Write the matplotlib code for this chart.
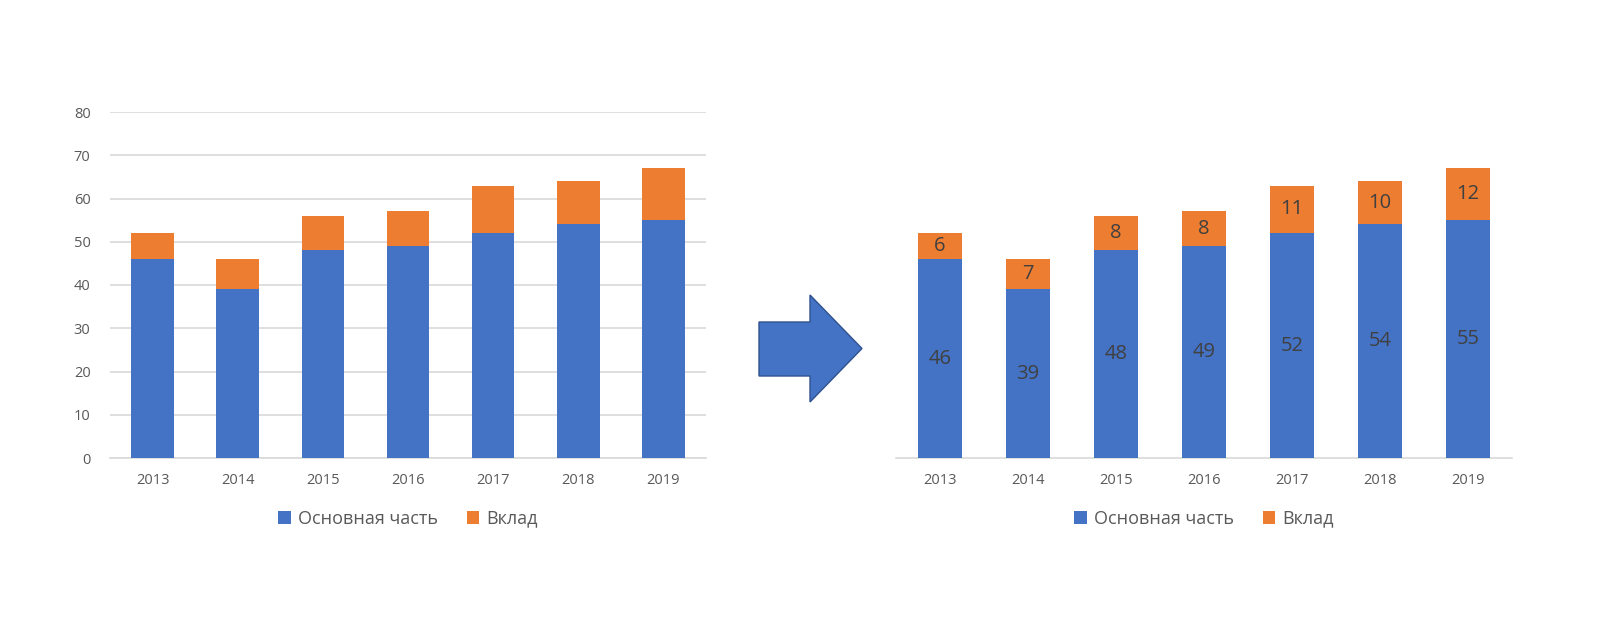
import matplotlib.pyplot as plt
from matplotlib.patches import Polygon

years = ['2013', '2014', '2015', '2016', '2017', '2018', '2019']
main_part = [46, 39, 48, 49, 52, 54, 55]
bonus = [6, 7, 8, 8, 11, 10, 12]

blue = '#4472C4'
orange = '#ED7D31'
grid_gray = '#D9D9D9'
text_gray = '#595959'

plt.rcParams['font.family'] = ['Open Sans', 'DejaVu Sans']

W, H = 1600, 635
fig = plt.figure(figsize=(16, 6.35), dpi=100)


def draw_chart(ax, with_labels):
    x = range(len(years))
    b1 = ax.bar(x, main_part, width=0.5, color=blue, label='Основная часть', zorder=3)
    b2 = ax.bar(x, bonus, width=0.5, bottom=main_part, color=orange, label='Вклад', zorder=3)
    ax.set_xlim(-0.5, len(years) - 0.5)
    ax.set_ylim(0, 80)
    ax.set_xticks(list(x))
    ax.set_xticklabels(years, fontsize=10.5, color=text_gray)
    ax.tick_params(axis='x', length=0, pad=11)
    for s in ['top', 'right', 'left']:
        ax.spines[s].set_visible(False)
    ax.spines['bottom'].set_color(grid_gray)
    ax.spines['bottom'].set_linewidth(1.2)
    if with_labels:
        # values inside the bars
        ax.bar_label(b1, label_type='center', fontsize=14.5, color='#404040')
        ax.bar_label(b2, label_type='center', fontsize=14.5, color='#404040')
        ax.set_yticks([])
    else:
        ax.set_yticks(range(0, 81, 10))
        ax.tick_params(axis='y', length=0, pad=14, labelsize=10.5, labelcolor=text_gray)
        ax.grid(axis='y', color=grid_gray, linewidth=1.2, zorder=0)
    leg = ax.legend(loc='center', bbox_to_anchor=(0.5, -0.175), ncol=2, frameon=False,
                    handlelength=0.7, handleheight=0.7, handletextpad=0.4,
                    columnspacing=1.6, fontsize=13)
    for t in leg.get_texts():
        t.set_color(text_gray)


ax1 = fig.add_axes([110 / W, 177 / H, 596 / W, 346 / H])
draw_chart(ax1, False)

ax2 = fig.add_axes([896 / W, 177 / H, 616 / W, 346 / H])
draw_chart(ax2, True)

# big arrow between the charts
pts = [(759, 322), (810, 322), (810, 295), (862, 348.5), (810, 402), (810, 376), (759, 376)]
arrow = Polygon([(px / W, (H - py) / H) for px, py in pts], closed=True,
                facecolor=blue, edgecolor='#2F528F', linewidth=1,
                transform=fig.transFigure)
fig.patches.append(arrow)

fig.savefig('out.png', dpi=100, facecolor='white')
